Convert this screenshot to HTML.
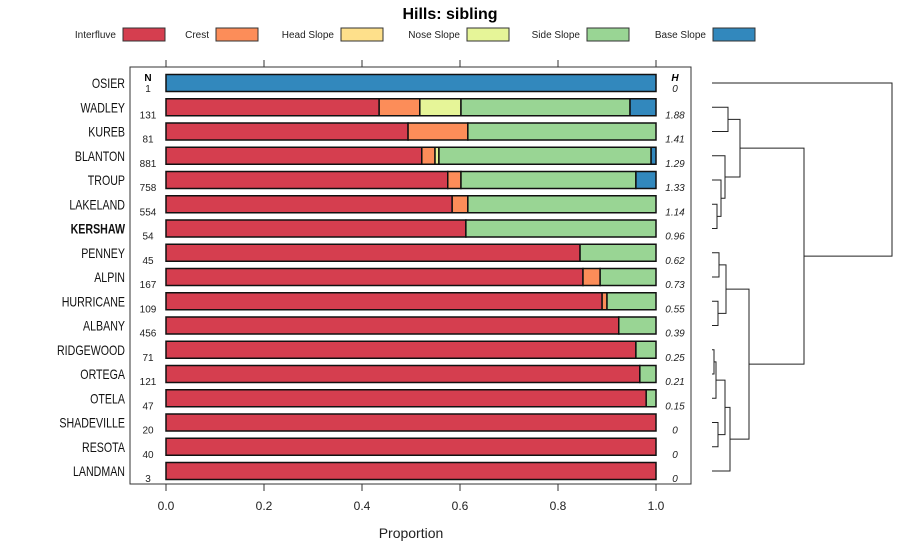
<!DOCTYPE html>
<html><head><meta charset="utf-8">
<style>
body{margin:0;background:#fff;font-family:"Liberation Sans",sans-serif;}
svg{display:block}
</style></head>
<body>
<svg id="chart" width="900" height="560" xmlns="http://www.w3.org/2000/svg"></svg>
<script>
const series = ["Interfluve","Crest","Head Slope","Nose Slope","Side Slope","Base Slope"];
const colors = ["#d53e4f","#fc8d59","#fee08b","#e6f598","#99d594","#3288bd"];
const soils = ["OSIER","WADLEY","KUREB","BLANTON","TROUP","LAKELAND","KERSHAW","PENNEY","ALPIN","HURRICANE","ALBANY","RIDGEWOOD","ORTEGA","OTELA","SHADEVILLE","RESOTA","LANDMAN"];
const nValues = [1,131,81,881,758,554,54,45,167,109,456,71,121,47,20,40,3];
const hValues = ["0","1.88","1.41","1.29","1.33","1.14","0.96","0.62","0.73","0.55","0.39","0.25","0.21","0.15","0","0","0"];
const interfluve = [0,0.435,0.494,0.522,0.575,0.584,0.612,0.845,0.851,0.890,0.924,0.959,0.967,0.980,1,1,1];
const crest      = [0,0.083,0.122,0.027,0.027,0.032,0,0,0.035,0.010,0,0,0,0,0,0,0];
const headSlope  = [0,0,0,0,0,0,0,0,0,0,0,0,0,0,0,0,0];
const noseSlope  = [0,0.084,0,0.008,0,0,0,0,0,0,0,0,0,0,0,0,0];
const sideSlope  = [0,0.345,0.384,0.433,0.357,0.384,0.388,0.155,0.114,0.100,0.076,0.041,0.033,0.020,0,0,0];
const baseSlope  = [1,0.053,0,0.010,0.041,0,0,0,0,0,0,0,0,0,0,0,0];
const xTicks = [0,0.2,0.4,0.6,0.8,1.0];
const xTickLabels = ["0.0","0.2","0.4","0.6","0.8","1.0"];
// dendrogram merges: [leftNode, rightNode, height]; leaf indices 0..16, internal nodes 17+
const merges = [
 [1,2,16],[5,6,5],[4,18,9],[3,19,13],[17,20,28],
 [7,8,7],[9,10,6],[22,23,14],
 [11,12,2],[13,25,4],[14,15,6],[26,27,13],[28,16,18],[24,29,37],
 [21,30,92],[0,31,180]
];

const svg=document.getElementById('chart');
const NS="http://www.w3.org/2000/svg";
function mk(tag,attrs,parent){const e=document.createElementNS(NS,tag);for(const k in attrs)e.setAttribute(k,attrs[k]);(parent||svg).appendChild(e);return e;}
const x0=166,x1=656;
const xs=v=>x0+v*(x1-x0);
const ys=i=>83+i*24.25;

// title
let t=mk('text',{x:450,y:19,'text-anchor':'middle','font-size':16,'font-weight':'bold'});t.textContent="Hills: sibling";



// legend
const legX=[116,209,334,460,580,706];
series.forEach((s,k)=>{
  const g=mk('g',{});
  
  
  const tx=mk('text',{x:legX[k],y:38,'text-anchor':'end','font-size':10,fill:'#222'},g);tx.textContent=s;
  mk('rect',{x:legX[k]+7,y:28,width:42,height:13,fill:colors[k],stroke:'#333','stroke-width':1},g);
});

// panel
const panel=mk('rect',{x:130,y:67,width:561,height:417,fill:'none',stroke:'#333','stroke-width':1});



// ticks
xTicks.forEach((v,k)=>{
  mk('line',{x1:xs(v),x2:xs(v),y1:60,y2:67,stroke:'#333'});
  mk('line',{x1:xs(v),x2:xs(v),y1:484,y2:491,stroke:'#333'});
  const tl=mk('text',{x:xs(v),y:510,'text-anchor':'middle','font-size':12,fill:'#222'});tl.textContent=xTickLabels[k];
  
  
});
const xt=mk('text',{x:411,y:538,'text-anchor':'middle','font-size':14,fill:'#222'});xt.textContent="Proportion";



let hN=mk('text',{x:148,y:81,'text-anchor':'middle','font-size':10,'font-weight':'bold'});hN.textContent="N";


let hH=mk('text',{x:675,y:81,'text-anchor':'middle','font-size':10,'font-weight':'bold','font-style':'italic'});hH.textContent="H";



const seriesVals=[interfluve,crest,headSlope,noseSlope,sideSlope,baseSlope];
const soilLabels=[];
soils.forEach((s,i)=>{
  const y=ys(i);
  const lab=mk('text',{x:125,y:y+5,'text-anchor':'end','font-size':14,fill:'#111','font-weight':s==="KERSHAW"?'bold':'normal'});lab.textContent=s;
  
  
  soilLabels.push(lab);
  const n=mk('text',{x:148,y:i===0?y+9:y+11,'text-anchor':'middle','font-size':10,fill:'#222'});n.textContent=nValues[i];
  
  
  const h=mk('text',{x:675,y:i===0?y+9:y+11,'text-anchor':'middle','font-size':10,'font-style':'italic',fill:'#222'});h.textContent=hValues[i];
  
  
  let cum=0;
  seriesVals.forEach((arr,k)=>{
    const v=arr[i];if(v<=0)return;
    const r=mk('rect',{x:xs(cum),y:y-8.5,width:xs(cum+v)-xs(cum),height:17,fill:colors[k],stroke:'#111','stroke-width':1.5});
    
    
    cum+=v;
  });
});

// dendrogram
const leafX=712, hScale=1.0;
const nodeY=soils.map((_,i)=>ys(i));
const nodeX=soils.map(()=>leafX);
merges.forEach(([a,b,h])=>{
  const x=leafX+h*hScale;
  const g=mk('path',{d:`M${nodeX[a]},${nodeY[a]}H${x}V${nodeY[b]}H${nodeX[b]}`,fill:'none',stroke:'#222','stroke-width':1});
  
  
  nodeX.push(x);nodeY.push((nodeY[a]+nodeY[b])/2);
});

// condense soil labels slightly to mimic narrower reference font
soilLabels.forEach(el=>{
  const w=el.getComputedTextLength();
  if(w>0){el.setAttribute('textLength',(w*0.76).toFixed(1));el.setAttribute('lengthAdjust','spacingAndGlyphs');}
});
</script>
</body></html>
